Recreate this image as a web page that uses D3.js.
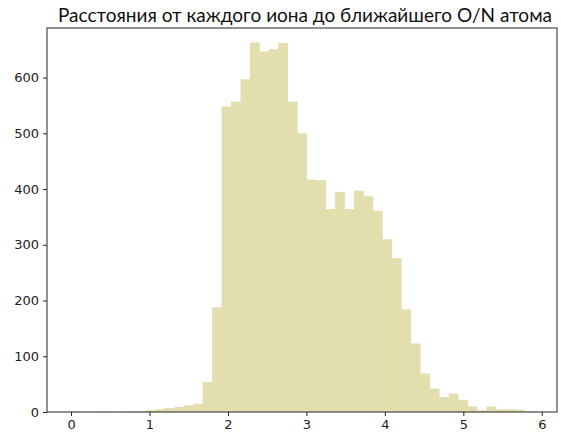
<!DOCTYPE html>
<html><head><meta charset="utf-8">
<script src="https://cdn.jsdelivr.net/npm/d3@7"></script>
<style>body{margin:0;background:#fff}svg{display:block}</style>
</head><body>
<script>
const binStart = -0.011;
const binWidth = 0.1206;
const counts = [1,0,0,1,0,0,1,1,3,5,7,9,12,15,54,188,
  548,557,597,663,647,651,662,557,500,417,416,364,395,364,397,387,361,
  310,276,184,123,69,42,27,33,22,10,3,10,5,5,4,1];
const xTicks = [0,1,2,3,4,5,6];
const yTicks = [0,100,200,300,400,500,600];
const title = "Расстояния от каждого иона до ближайшего O/N атома";

const W = 561, H = 441;
const m = {l:47, r:4, t:28, b:29};
const svg = d3.select("body").append("svg").attr("width", W).attr("height", H);
const bins = counts.map((c,i)=>({x0: binStart + i*binWidth, x1: binStart + (i+1)*binWidth, c}));
const lo = bins[0].x0, hi = bins[bins.length-1].x1, pad = (hi-lo)*0.05;
const x = d3.scaleLinear().domain([lo-pad, hi+pad]).range([m.l, W-m.r]);
const y = d3.scaleLinear().domain([0, 689]).range([H-m.b, m.t]);

svg.append("g").selectAll("rect").data(bins).join("rect")
  .attr("x", d=>x(d.x0)).attr("width", d=>x(d.x1)-x(d.x0)+0.3)
  .attr("y", d=>y(d.c)).attr("height", d=>y(0)-y(d.c))
  .attr("fill", "rgb(226,222,174)");

const fontT = "DejaVu Sans, sans-serif";
const gx = svg.append("g").attr("transform", `translate(0,${H-m.b})`)
  .call(d3.axisBottom(x).tickValues(xTicks).tickFormat(d3.format("d")).tickSize(4).tickPadding(4));
const gy = svg.append("g").attr("transform", `translate(${m.l},0)`)
  .call(d3.axisLeft(y).tickValues(yTicks).tickSize(4).tickPadding(4));
[gx,gy].forEach(g=>{
  g.select(".domain").remove();
  g.selectAll("text").attr("font-family", fontT).attr("font-size", 13).attr("fill","#222");
  g.selectAll("line").attr("stroke","#222");
});
svg.append("rect").attr("x", m.l).attr("y", m.t).attr("width", W-m.r-m.l).attr("height", H-m.b-m.t)
  .attr("fill","none").attr("stroke","#222").attr("stroke-width",1);
svg.append("text").attr("x", 305).attr("y", 22).attr("text-anchor","middle")
  .attr("font-family","Lato, sans-serif").attr("font-size", 19).attr("fill","#111").text(title);
</script>
</body></html>
